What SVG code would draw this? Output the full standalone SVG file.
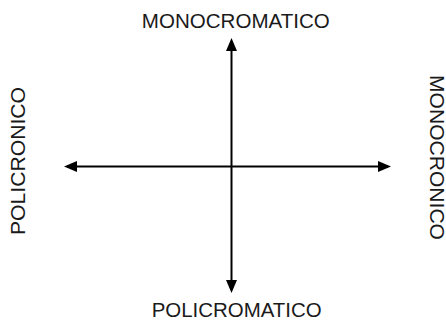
<svg xmlns="http://www.w3.org/2000/svg" width="446" height="320" viewBox="0 0 446 320">
  <style>
    .lbl { font-family: "Liberation Sans", Arial, sans-serif; font-size: 20px; fill: #1a1a1a; text-anchor: middle; }
    .axis { stroke: #000; stroke-width: 2; fill: none; marker-end: url(#head); }
  </style>
  <defs>
    <marker id="head" viewBox="0 0 13 11" refX="10" refY="5.5" markerWidth="13" markerHeight="11" markerUnits="userSpaceOnUse" orient="auto">
      <path d="M0,0 L13,5.5 L0,11 Z" fill="#000"/>
    </marker>
  </defs>
  <rect width="446" height="320" fill="#fff"/>
  <g id="connectors">
    <path class="axis" d="M231.5,166.5 L231.5,41"/>
    <path class="axis" d="M231.5,166.5 L231.5,290"/>
    <path class="axis" d="M231.5,166.5 L67,166.5"/>
    <path class="axis" d="M231.5,166.5 L388,166.5"/>
  </g>
  <g id="monocromatico">
    <text class="lbl" x="235.8" y="27.7" textLength="188" lengthAdjust="spacingAndGlyphs">MONOCROMATICO</text>
  </g>
  <g id="policromatico">
    <text class="lbl" x="236.7" y="316.5" textLength="170" lengthAdjust="spacingAndGlyphs">POLICROMATICO</text>
  </g>
  <g id="policronico">
    <text class="lbl" transform="translate(24.5,161) rotate(-90)" x="0" y="0" textLength="148" lengthAdjust="spacingAndGlyphs">POLICRONICO</text>
  </g>
  <g id="monocronico">
    <text class="lbl" transform="translate(429.5,157.5) rotate(90)" x="0" y="0" textLength="165" lengthAdjust="spacingAndGlyphs">MONOCRONICO</text>
  </g>
</svg>
